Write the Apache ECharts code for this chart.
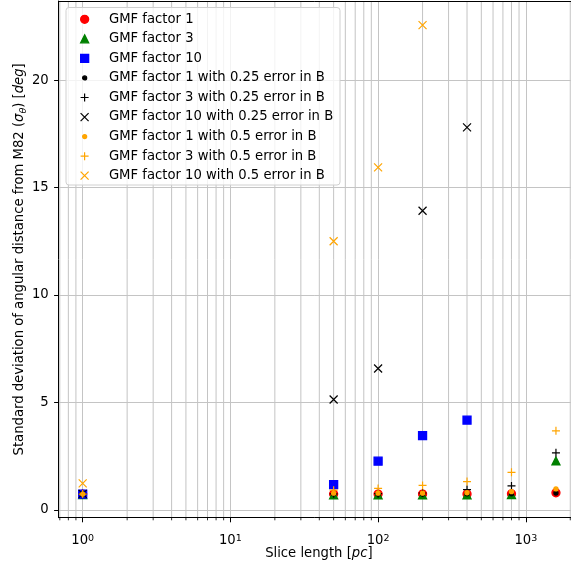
<!DOCTYPE html>
<html>
<head>
<meta charset="utf-8">
<script src="https://cdn.jsdelivr.net/npm/echarts@6/dist/echarts.min.js"></script>
<style>
html,body{margin:0;padding:0;background:#fff}
#chart{width:571px;height:569px}
</style>
</head>
<body>
<div id="chart"></div>
<script>
// slice lengths [pc]
var sliceLengths = [1, 50, 100, 200, 400, 800, 1600];
var sliceLengths10 = [1, 50, 100, 200, 400];
var sliceLengths10Half = [1, 50, 100, 200];

// standard deviation [deg]
var gmf1 = [0.74, 0.74, 0.74, 0.74, 0.74, 0.75, 0.80];
var gmf3 = [0.72, 0.70, 0.70, 0.70, 0.70, 0.72, 2.28];
var gmf10 = [0.74, 1.18, 2.27, 3.46, 4.18];
var gmf1Err025 = [0.74, 0.75, 0.74, 0.74, 0.75, 0.75, 0.79];
var gmf3Err025 = [0.74, 0.75, 0.76, 0.79, 0.95, 1.12, 2.66];
var gmf10Err025 = [0.75, 5.14, 6.58, 13.92, 17.8];
var gmf1Err05 = [0.74, 0.78, 0.78, 0.78, 0.80, 0.85, 0.98];
var gmf3Err05 = [0.74, 0.92, 1.00, 1.14, 1.32, 1.75, 3.68];
var gmf10Err05 = [1.24, 12.5, 15.94, 22.56];

var xTicks = [1, 10, 100, 1000];
var xMinorTicks = [0.7, 0.8, 0.9, 2, 3, 4, 5, 6, 7, 8, 9, 20, 30, 40, 50, 60, 70, 80, 90,
  200, 300, 400, 500, 600, 700, 800, 900, 2000];
var yTicks = [0, 5, 10, 15, 20];

var FONT = 'DejaVu Sans';
var GRIDC = '#c4c4c4';
var PLUS = 'path://M0,5L10,5M5,0L5,10';
var CROSS = 'path://M0,0L10,10M10,0L0,10';

var chart = echarts.init(document.getElementById('chart'));

function pts(xs, ys) {
  var out = [];
  for (var i = 0; i < xs.length; i++) out.push([xs[i], ys[i]]);
  return out;
}

// name, x, y, symbol, size, color, edge width
var defs = [
  ['GMF factor 1', sliceLengths, gmf1, 'circle', 8, '#ff0000', 1.3],
  ['GMF factor 3', sliceLengths, gmf3, 'triangle', 8, '#008000', 1.3],
  ['GMF factor 10', sliceLengths10, gmf10, 'rect', 8, '#0000ff', 1.3],
  ['GMF factor 1 with 0.25 error in B', sliceLengths, gmf1Err025, 'circle', 4, '#000000', 1.3],
  ['GMF factor 3 with 0.25 error in B', sliceLengths, gmf3Err025, PLUS, 8, '#000000', 1.2],
  ['GMF factor 10 with 0.25 error in B', sliceLengths10, gmf10Err025, CROSS, 8, '#000000', 1.2],
  ['GMF factor 1 with 0.5 error in B', sliceLengths, gmf1Err05, 'circle', 4, '#ffa500', 1.3],
  ['GMF factor 3 with 0.5 error in B', sliceLengths, gmf3Err05, PLUS, 8, '#ffa500', 1.2],
  ['GMF factor 10 with 0.5 error in B', sliceLengths10Half, gmf10Err05, CROSS, 8, '#ffa500', 1.2]
];

var series = [{
  // minor log grid lines + minor ticks
  type: 'custom',
  silent: true,
  clip: false,
  z: 0,
  data: xMinorTicks.map(function (v) { return [v, 0]; }),
  encode: { x: 0, y: 1 },
  renderItem: function (params, api) {
    var x = api.coord([api.value(0), 0])[0];
    var cs = params.coordSys;
    return {
      type: 'group',
      children: [
        { type: 'line', shape: { x1: x, y1: cs.y, x2: x, y2: cs.y + cs.height }, style: { stroke: GRIDC, lineWidth: 1 } },
        { type: 'line', shape: { x1: x, y1: cs.y + cs.height, x2: x, y2: cs.y + cs.height + 2.6 }, style: { stroke: '#000', lineWidth: 0.8 } }
      ]
    };
  }
}];

defs.forEach(function (d) {
  series.push({
    name: d[0],
    type: 'scatter',
    symbol: d[3],
    symbolSize: d[4],
    data: pts(d[1], d[2]),
    itemStyle: { color: d[5], borderColor: d[5], borderWidth: d[6], opacity: 1 },
    emphasis: { disabled: true }
  });
});

// one legend per entry so each icon keeps its own marker size
var legends = defs.map(function (d, i) {
  var s = d[4];
  return {
    data: [d[0]],
    orient: 'vertical',
    left: 84 - s / 2,
    top: 12.3 + i * 19.55,
    padding: 0,
    itemWidth: s,
    itemHeight: s,
    selectedMode: false,
    z: 6,
    itemStyle: { borderWidth: d[6] },
    textStyle: { fontFamily: FONT, fontSize: 13.2, lineHeight: 14, color: '#000', padding: [0, 0, 0, 19.3 - s / 2] }
  };
});

var option = {
  animation: false,
  backgroundColor: '#fff',
  textStyle: { fontFamily: FONT },
  grid: { left: 58.7, top: 1, right: 0, bottom: 51.3, outerBoundsMode: 'none', containLabel: false },
  legend: legends,
  graphic: [{
    type: 'rect',
    z: 5,
    shape: { x: 66, y: 7.5, width: 274, height: 177.5, r: 3 },
    style: { fill: 'rgba(255,255,255,0.8)', stroke: '#d0d0d0', lineWidth: 1 }
  }],
  xAxis: [{
    type: 'log',
    min: 0.688,
    max: 2023,
    name: 'Slice length [{it|pc}]',
    nameLocation: 'middle',
    nameGap: 29,
    nameMoveOverlap: false,
    nameTextStyle: {
      fontFamily: FONT, fontSize: 13.2, color: '#000', padding: [0, 0, 0, 8],
      rich: { it: { fontStyle: 'italic', fontFamily: FONT, fontSize: 13.2 } }
    },
    axisLine: { show: true, onZero: false, lineStyle: { color: '#000', width: 1 } },
    axisTick: { show: true, inside: false, length: 4.6, customValues: xTicks, lineStyle: { color: '#000', width: 1 } },
    axisLabel: {
      margin: 16,
      customValues: xTicks,
      formatter: function (v) {
        return '{b|10}{sup|' + Math.round(Math.log10(v)) + '}';
      },
      rich: {
        b: { fontFamily: FONT, fontSize: 13.2, color: '#000', lineHeight: 14 },
        sup: { fontFamily: FONT, fontSize: 9.5, color: '#000', lineHeight: 7, verticalAlign: 'top' }
      }
    },
    splitLine: { show: true, lineStyle: { color: GRIDC, width: 1 } }
  }, {
    type: 'log',
    position: 'top',
    min: 0.688,
    max: 2023,
    axisLine: { show: true, onZero: false, lineStyle: { color: '#000', width: 1 } },
    axisTick: { show: false },
    axisLabel: { show: false },
    splitLine: { show: false }
  }],
  yAxis: {
    type: 'value',
    min: -0.36,
    max: 23.68,
    name: 'Standard deviation of angular distance from M82 ({it|σ}{sub|θ}) [{it|deg}]',
    nameLocation: 'middle',
    nameGap: 30,
    nameMoveOverlap: false,
    nameTextStyle: {
      fontFamily: FONT, fontSize: 13.2, color: '#000', lineHeight: 18,
      rich: {
        it: { fontStyle: 'italic', fontFamily: FONT, fontSize: 13.2, lineHeight: 18 },
        sub: { fontStyle: 'italic', fontFamily: FONT, fontSize: 9.5, lineHeight: 12, verticalAlign: 'bottom' }
      }
    },
    axisLine: { show: true, onZero: false, lineStyle: { color: '#000', width: 1 } },
    axisTick: { show: true, inside: false, length: 4.6, customValues: yTicks, lineStyle: { color: '#000', width: 1 } },
    axisLabel: { margin: 10, customValues: yTicks, fontFamily: FONT, fontSize: 13.2, color: '#000' },
    splitLine: { show: true, lineStyle: { color: GRIDC, width: 1 } }
  },
  series: series
};

chart.setOption(option);
</script>
</body>
</html>
